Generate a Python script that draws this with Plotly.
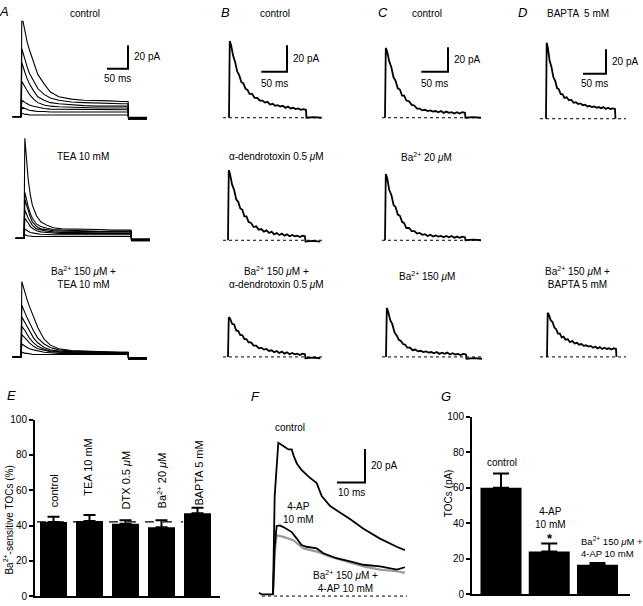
import plotly.graph_objects as go

# ---------------- data ----------------
# Panel A: current families (pA) sampled at A_t (ms)
A_t = [-20, 0, 2, 5, 10, 15, 20, 30, 40, 55, 70, 90, 120, 150, 180, 210, 240, 255, 256, 300]
A_control = [
    [0, 0, 86, 80, 71, 63, 57, 47, 36, 28, 21, 17, 15, 14, 14, 13.5, 13, 13, -2, -2],
    [0, 0, 58, 54, 48, 42, 37, 30, 24, 19, 16, 14, 12.5, 12, 11.5, 11, 11, 11, -2, -2],
    [0, 0, 46, 42, 37, 32, 28, 22, 17, 14, 12, 11, 10, 9.5, 9, 9, 9, 9, -1.5, -1.5],
    [0, 0, 30, 28, 25, 22, 19, 15, 12, 10, 9, 8.5, 8, 8, 7.5, 7.5, 7.5, 7.5, -1.5, -1.5],
    [0, 0, 14, 13, 12, 11, 10, 9, 8, 7, 6.5, 6.5, 6, 6, 6, 6, 6, 6, -1, -1],
    [0, 0, 8, 7.5, 7, 6, 5.5, 5, 4.5, 4.5, 4, 4, 4, 4, 4, 4, 4, 4, -1, -1],
    [0, 0, 3, 2.5, 2, 2, 1.5, 1.5, 1.5, 1.5, 1.5, 1.5, 1.5, 1.5, 1.5, 1.5, 1.5, 1.5, -0.5, -0.5],
]
A_tea = [
    [0, 0, 85, 70, 50, 37, 28, 19, 14, 11, 9, 8, 8, 7.5, 7.5, 7, 7, 7, -2, -2],
    [0, 0, 39, 34, 27, 21, 17, 12, 10, 8.5, 7.5, 7, 6.5, 6.5, 6, 6, 6, 6, -2, -2],
    [0, 0, 33, 29, 23, 18, 14, 10, 8, 7, 6.5, 6, 6, 5.5, 5.5, 5.5, 5.5, 5.5, -1.5, -1.5],
    [0, 0, 24, 21, 17, 14, 11, 8, 7, 6, 5.5, 5, 5, 5, 4.5, 4.5, 4.5, 4.5, -1.5, -1.5],
    [0, 0, 17, 15, 13, 10, 8.5, 6.5, 5.5, 5, 4.5, 4, 4, 4, 4, 4, 4, 4, -1, -1],
    [0, 0, 8, 7, 6, 5, 4.5, 4, 3.5, 3, 3, 3, 3, 3, 3, 3, 3, 3, -1, -1],
    [0, 0, 3, 2.5, 2, 2, 1.5, 1.5, 1.5, 1.5, 1.5, 1.5, 1.5, 1.5, 1.5, 1.5, 1.5, 1.5, -0.5, -0.5],
]
A_ba_tea = [
    [0, 0, 64, 60, 54, 48, 43, 34, 25, 15, 10, 7, 5.5, 5, 4.5, 4.5, 4, 4, -2, -2],
    [0, 0, 44, 41, 37, 33, 29, 22, 16, 11, 8, 6, 5, 4.5, 4, 4, 4, 4, -2, -2],
    [0, 0, 34, 32, 29, 25, 22, 16, 12, 8, 6, 5, 4.5, 4, 4, 4, 3.5, 3.5, -1.5, -1.5],
    [0, 0, 26, 24, 22, 19, 16, 12, 9, 6.5, 5, 4.5, 4, 3.5, 3.5, 3.5, 3.5, 3.5, -1.5, -1.5],
    [0, 0, 19, 18, 16, 14, 12, 9, 7, 5.5, 4.5, 4, 3.5, 3.5, 3, 3, 3, 3, -1, -1],
    [0, 0, 11, 10, 9, 8, 7, 6, 5, 4, 3.5, 3, 3, 3, 3, 3, 3, 3, -1, -1],
    [0, 0, 4, 3.5, 3, 3, 2.5, 2, 2, 2, 2, 2, 2, 2, 2, 2, 2, 2, -0.5, -0.5],
]

# Panels B-D: single traces (pA) sampled at S_t (ms)
S_t = [0, 1.5, 4, 8, 12, 16, 20, 24, 28, 32, 36, 40, 45, 50, 55, 60, 65, 70, 75, 80, 85, 90,
       95, 100, 105, 110, 115, 120, 125, 130, 135, 140, 145, 150, 151, 165, 180]
B_control = [0, 58, 55, 47, 42, 35, 32, 27, 26, 22, 21, 18, 18, 15, 15, 13, 13, 11.5, 12, 10, 10.5, 9,
             9.5, 8.5, 9, 7.5, 8.5, 7, 7.5, 6.5, 7, 6, 6.5, 6, 0, 0.5, 0]
B_dtx = [0, 53, 50, 42, 38, 31, 29, 24, 23, 18, 18, 14, 13, 10, 10.5, 8, 8.5, 6.5, 7.5, 5.5, 6.5, 4.5,
         5.5, 4, 5, 3.5, 4.5, 3, 4, 3, 3.5, 2.5, 3.5, 3, -1, -0.5, -1]
B_ba_dtx = [0, 30, 29, 25, 24.5, 20, 19.5, 16.5, 16.5, 13.5, 13.5, 11, 11, 8.5, 8.5, 6.5, 7, 5.5, 6, 4.5,
            5, 3.5, 4.5, 3, 4, 2.5, 3.5, 2, 3, 2, 2.5, 1.5, 2.5, 2, -1, -0.5, -1]
C_control = [0, 57, 54, 46, 41, 33, 30, 24, 23, 18, 18, 14, 13.5, 10.5, 10, 7.5, 7.5, 6, 6.5, 5.5, 6, 5,
             5.5, 4.5, 5.5, 4, 5, 4, 4.5, 3.5, 4.5, 3.5, 4.5, 4, 0, 0.5, 0]
C_ba20 = [0, 54, 51, 41, 37, 29, 27, 21, 20, 15, 14, 10, 10, 7.5, 7.5, 5.5, 6, 4.5, 5, 3.5, 4.5, 3,
          4, 3, 3.5, 2.5, 3.5, 2.5, 3.5, 2, 3, 2, 3, 2.5, 0, 0.5, 0]
C_ba150 = [0, 40, 37, 30, 26.5, 20, 17.5, 14, 13, 10.5, 10, 7.5, 7.5, 5.5, 6, 4.5, 5, 4, 4.5, 3.5, 4, 3,
           4, 2.5, 3.5, 2.5, 3.5, 2, 3, 2, 2.5, 1.5, 2.5, 2, -1.5, -1, -1.5]
D_bapta = [0, 62, 58, 47, 42, 34, 31, 25, 24, 20, 20, 17, 17.5, 15, 15.5, 13, 13.5, 12, 12.5, 11, 11.5, 10,
           10.5, 9.5, 10, 9, 9.5, 8.5, 9.5, 8, 9, 8, 8.5, 8, 0, None, None]
D_ba_bapta = [0, 36, 34.5, 30, 28.5, 24, 22.5, 19, 19, 16, 16.5, 14, 14.5, 12, 13, 11, 11.5, 10, 10.5, 9,
              9.5, 8.5, 9, 7.5, 8.5, 7, 8, 6.5, 7.5, 6.5, 7, 6, 7, 6.5, 0, None, None]

# Panel F traces
F_ctrl_t = [-5, -4, -3, -1.5, 0, 0.6, 1.9, 3.7, 5.5, 6.7, 7.3, 8.5, 10.2, 12.6, 15.6, 17.4, 20.4, 23.9, 27.5, 32.3, 38.2, 44.2, 47.1]
F_ctrl = [2, 1, 1, 1, 1, 60, 92, 90, 88, 88, 84.5, 79.6, 75.7, 71.8, 67.8, 60, 54, 50.2, 46.3, 40.4, 34.5, 29.6, 27.6]
F_4ap_t = [0, 0.6, 1.3, 2.5, 3.7, 4.9, 6.7, 8.5, 10.2, 12, 15.6, 18, 22.7, 27.5, 32.3, 38.2, 41.8, 44.2, 47.1]
F_4ap = [1, 30, 42, 42.4, 41.4, 40.4, 38.4, 34.5, 30.6, 29.6, 28.6, 25.7, 22.7, 20.8, 18.8, 17.8, 16.9, 15.9, 17.3]
F_ba4ap_t = [0, 0.6, 1.3, 3.7, 7.3, 10.9, 15.6, 20.4, 26.3, 32.3, 38.2, 44.2, 47.1]
F_ba4ap = [1, 25, 36.5, 35.5, 33.5, 28.6, 26.7, 23.7, 20.8, 17.8, 15.9, 14.9, 13.9]

# Panel E
E_labels = ["control", "TEA 10 mM", "DTX 0.5 <i>μ</i>M", "Ba<sup>2+</sup> 20 <i>μ</i>M", "BAPTA 5 mM"]
E_values = [42, 42.5, 41, 39, 47]
E_errors = [3, 3.5, 2, 4, 3]
E_ticks = [0, 20, 40, 60, 80, 100]

# Panel G
G_labels = ["control", "4-AP<br>10 mM", "Ba<sup>2+</sup> 150 <i>μ</i>M +<br>4-AP 10 mM"]
G_values = [60, 24, 16.5]
G_errors = [8, 4.5, 1]
G_ticks = [0, 20, 40, 60, 80, 100]

# ---------------- layout helpers ----------------
W, H = 643, 606
FONT = "Liberation Sans, Arial, Helvetica, sans-serif"
fig = go.Figure()
layout = dict(width=W, height=H, margin=dict(l=0, r=0, t=0, b=0),
              paper_bgcolor="white", plot_bgcolor="rgba(0,0,0,0)",
              showlegend=False, font=dict(family=FONT, size=10, color="black"))
annotations = []

def py(p):
    return 1 - p / H

def px(p):
    return p / W

panels = {}

def trace_panel(name, idx, box, onset, base, sx, sy):
    l, t, r, b = box
    layout[f"xaxis{idx}"] = dict(domain=[px(l), px(r)], range=[(l - onset) / sx, (r - onset) / sx],
                                 visible=False, anchor=f"y{idx}", fixedrange=True)
    layout[f"yaxis{idx}"] = dict(domain=[py(b), py(t)], range=[(base - b) / sy, (base - t) / sy],
                                 visible=False, anchor=f"x{idx}", fixedrange=True)
    panels[name] = dict(idx=idx, onset=onset, base=base, sx=sx, sy=sy)

def to_data(name, xp, yp):
    p = panels[name]
    return (xp - p["onset"]) / p["sx"], (p["base"] - yp) / p["sy"]

def axref(name):
    i = panels[name]["idx"]
    return f"x{i}", f"y{i}"

def line(name, x, y, width=1.0, color="black", dash=None):
    xa, ya = axref(name)
    fig.add_trace(go.Scatter(x=x, y=y, mode="lines", xaxis=xa, yaxis=ya, hoverinfo="skip",
                             line=dict(color=color, width=width, dash=dash), connectgaps=False))

def ann(xp, yp, text, size=10, xanchor="center", yanchor="middle", angle=0, align="center"):
    annotations.append(dict(x=px(xp), y=py(yp), xref="paper", yref="paper", text=text, showarrow=False,
                            xanchor=xanchor, yanchor=yanchor, textangle=angle, align=align,
                            font=dict(family=FONT, size=size, color="black")))

def scalebar(name, corner, tlen, ilen, tlabel, ilabel, lab_dy=10):
    t0, i0 = to_data(name, *corner)
    line(name, [t0 - tlen, t0, t0], [i0, i0, i0 + ilen], width=2)
    p = panels[name]
    ann(corner[0] + 4, corner[1] - ilen * p["sy"] / 2, ilabel, xanchor="left")
    ann(corner[0] - tlen * p["sx"] / 2, corner[1] + lab_dy, tlabel)

# ---------------- trace panels ----------------
trace_panel("A1", 1, (0, 15, 160, 125), 21, 113, 0.42, 1.2)
trace_panel("A2", 2, (0, 130, 160, 245), 24, 237, 0.42, 1.2)
trace_panel("A3", 3, (0, 255, 160, 370), 21, 358, 0.42, 1.2)
trace_panel("B1", 4, (215, 15, 335, 125), 229, 114, 0.513, 1.35)
trace_panel("B2", 5, (215, 135, 335, 245), 228, 239, 0.513, 1.35)
trace_panel("B3", 6, (215, 255, 335, 370), 228, 358, 0.513, 1.35)
trace_panel("C1", 7, (375, 15, 495, 125), 385, 114, 0.533, 1.25)
trace_panel("C2", 8, (375, 135, 495, 245), 385, 239, 0.533, 1.25)
trace_panel("C3", 9, (375, 255, 495, 370), 386, 358, 0.533, 1.25)
trace_panel("D1", 10, (530, 15, 640, 125), 546, 115, 0.46, 1.25)
trace_panel("D3", 11, (530, 255, 640, 370), 547, 358, 0.46, 1.25)
trace_panel("F", 12, (250, 400, 420, 606), 273, 602, 2.8, 1.7)

for name, fam in (("A1", A_control), ("A2", A_tea), ("A3", A_ba_tea)):
    for tr in fam:
        line(name, A_t, tr, width=1.1)

singles = [("B1", B_control, (223, 325)), ("B2", B_dtx, (223, 325)), ("B3", B_ba_dtx, (223, 325)),
           ("C1", C_control, (382, 482)), ("C2", C_ba20, (382, 482)), ("C3", C_ba150, (382, 482)),
           ("D1", D_bapta, (540, 626)), ("D3", D_ba_bapta, (540, 626))]
for name, vals, (x0, x1) in singles:
    ta, _ = to_data(name, x0, 0)
    tb, _ = to_data(name, x1, 0)
    line(name, [ta, tb], [0, 0], width=1, dash="dot")
    line(name, S_t, vals, width=1.8)

# Panel F
fa, _ = to_data("F", 262, 0)
fb, _ = to_data("F", 407, 0)
line("F", [fa, fb], [0, 0], width=1, dash="dot")
line("F", F_ba4ap_t, F_ba4ap, width=2.2, color="#999999")
line("F", F_4ap_t, F_4ap, width=1.8)
line("F", F_ctrl_t, F_ctrl, width=1.8)

# scale bars
scalebar("A1", (128, 64), 50, 20, "50 ms", "20 pA")
scalebar("B1", (287, 67), 50, 20, "50 ms", "20 pA", lab_dy=12)
scalebar("C1", (448, 67), 50, 20, "50 ms", "20 pA", lab_dy=12)
scalebar("D1", (606, 69), 50, 20, "50 ms", "20 pA")
scalebar("F", (365, 486), 10, 20, "10 ms", "20 pA")

# ---------------- bar panels ----------------
# E
layout["xaxis13"] = dict(domain=[px(35), px(220)], range=[-0.514, 4.625], anchor="y13",
                         showline=True, linewidth=2, linecolor="black", showticklabels=False,
                         ticks="", showgrid=False, zeroline=False, fixedrange=True)
layout["yaxis13"] = dict(domain=[py(602), py(422)], range=[0, 100], anchor="x13",
                         showline=True, linewidth=2, linecolor="black", ticks="outside", ticklen=4,
                         tickwidth=1.5, tickcolor="black", tickvals=E_ticks, showgrid=False,
                         zeroline=False, tickfont=dict(family=FONT, size=10), fixedrange=True)
E_x = list(range(len(E_values)))
fig.add_trace(go.Bar(x=E_x, y=E_values, width=0.75, marker=dict(color="black", line=dict(width=0)),
                     xaxis="x13", yaxis="y13", hoverinfo="skip",
                     error_y=dict(type="data", array=E_errors, arrayminus=[0] * len(E_errors),
                                  symmetric=False, color="black", thickness=2, width=6)))
fig.add_trace(go.Scatter(x=[-0.46, 3.6], y=[E_values[0], E_values[0]], mode="lines",
                         xaxis="x13", yaxis="y13", hoverinfo="skip",
                         line=dict(color="black", width=1.3, dash="dash")))
E_lab_pos = [(54, 495), (88, 471), (126, 484), (162, 484), (199, 477)]
for (xp_, yp_), lab in zip(E_lab_pos, E_labels):
    ann(xp_, yp_, lab, angle=-90, size=11)

# G
layout["xaxis14"] = dict(domain=[px(472), px(630)], range=[-0.601, 2.674], anchor="y14",
                         showline=True, linewidth=2, linecolor="black", showticklabels=False,
                         ticks="", showgrid=False, zeroline=False, fixedrange=True)
layout["yaxis14"] = dict(domain=[py(600), py(419)], range=[0, 100], anchor="x14",
                         showline=True, linewidth=2, linecolor="black", ticks="outside", ticklen=4,
                         tickwidth=1.5, tickcolor="black", tickvals=G_ticks, showgrid=False,
                         zeroline=False, tickfont=dict(family=FONT, size=10), fixedrange=True)
G_x = list(range(len(G_values)))
fig.add_trace(go.Bar(x=G_x, y=G_values, width=0.85, marker=dict(color="black", line=dict(width=0)),
                     xaxis="x14", yaxis="y14", hoverinfo="skip",
                     error_y=dict(type="data", array=G_errors, arrayminus=[0] * len(G_errors),
                                  symmetric=False, color="black", thickness=2, width=8)))
ann(502, 466, G_labels[0])
ann(550, 522, G_labels[1])
ann(550, 543, "<b>*</b>", size=13)
ann(579, 552, G_labels[2], xanchor="left", size=9.5, align="left")

# ---------------- text ----------------
for xp_, yp_, lab in [(4, 6, "A"), (226, 7, "B"), (383, 7, "C"), (522, 7, "D"),
                      (11, 397, "E"), (255, 398, "F"), (446, 398, "G")]:
    ann(xp_, yp_, f"<i>{lab}</i>", size=13)

ann(85, 8, "control")
ann(275, 8, "control")
ann(427, 8, "control")
ann(578, 8, "BAPTA  5 mM")
ann(83, 154, "TEA 10 mM")
ann(276, 154, "α-dendrotoxin 0.5 <i>μ</i>M")
ann(427, 154, "Ba<sup>2+</sup> 20 <i>μ</i>M")
ann(83, 277, "Ba<sup>2+</sup> 150 <i>μ</i>M +<br>TEA 10 mM")
ann(276, 277, "Ba<sup>2+</sup> 150 <i>μ</i>M +<br>α-dendrotoxin 0.5 <i>μ</i>M")
ann(427, 275, "Ba<sup>2+</sup> 150 <i>μ</i>M")
ann(577, 277, "Ba<sup>2+</sup> 150 <i>μ</i>M +<br>BAPTA 5 mM")

ann(290, 430, "control")
ann(298, 517, "4-AP<br>10 mM")
ann(345, 587, "Ba<sup>2+</sup> 150 <i>μ</i>M +<br>4-AP 10 mM")

ann(8, 525, "Ba<sup>2+</sup>-sensitive TOCs (%)", angle=-90)
ann(448, 497, "TOCs (pA)", angle=-90)

layout["annotations"] = annotations
fig.update_layout(**layout)
fig.write_html("out.html", config={"displayModeBar": False},
               post_script="document.body.style.margin='0px';")
